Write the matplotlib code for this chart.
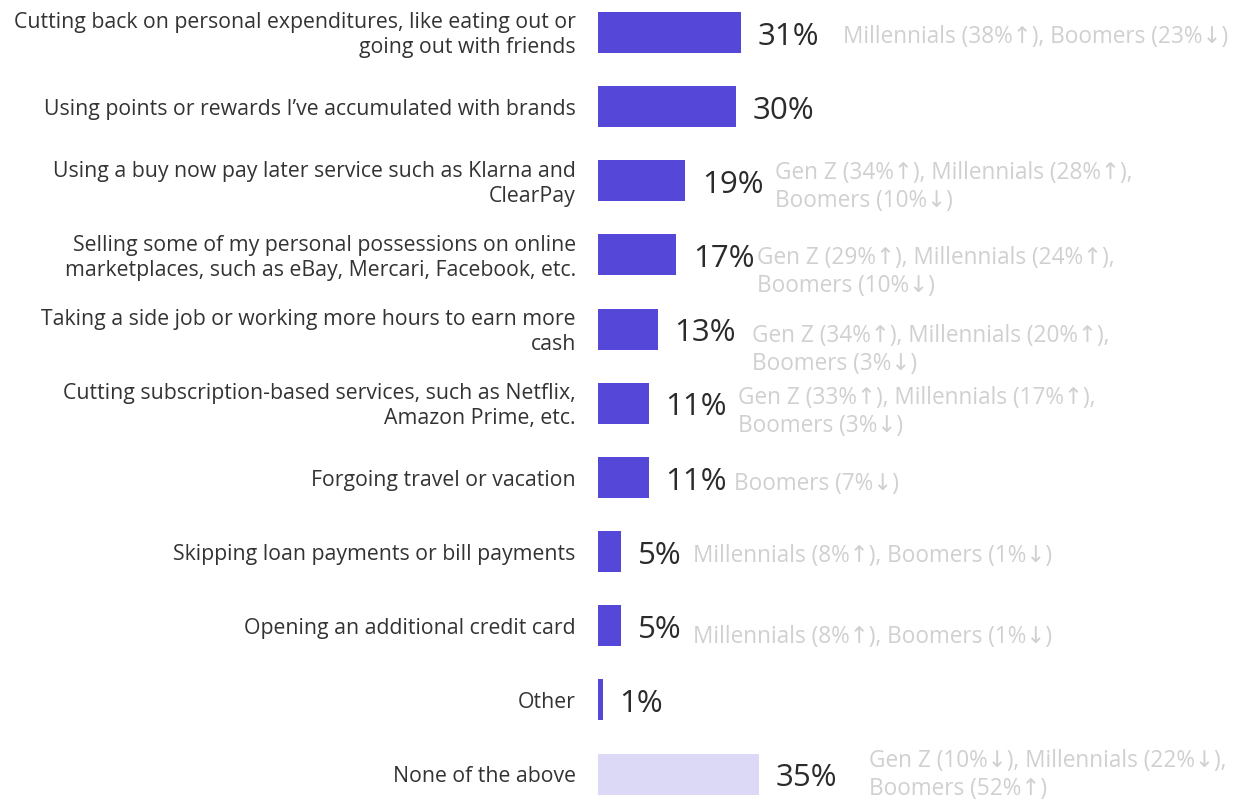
import matplotlib
matplotlib.use('Agg')
import matplotlib.pyplot as plt

plt.rcParams['font.family'] = ['Open Sans', 'Noto Sans', 'DejaVu Sans']

# survey answers, top to bottom
answers = [
    "Cutting back on personal expenditures, like eating out or\ngoing out with friends",
    "Using points or rewards I\u2019ve accumulated with brands",
    "Using a buy now pay later service such as Klarna and\nClearPay",
    "Selling some of my personal possessions on online\nmarketplaces, such as eBay, Mercari, Facebook, etc.",
    "Taking a side job or working more hours to earn more\ncash",
    "Cutting subscription-based services, such as Netflix,\nAmazon Prime, etc.",
    "Forgoing travel or vacation",
    "Skipping loan payments or bill payments",
    "Opening an additional credit card",
    "Other",
    "None of the above",
]
shares = [31, 30, 19, 17, 13, 11, 11, 5, 5, 1, 35]
generation_notes = [
    "Millennials (38%\u2191), Boomers (23%\u2193)",
    "",
    "Gen Z (34%\u2191), Millennials (28%\u2191),\nBoomers (10%\u2193)",
    "Gen Z (29%\u2191), Millennials (24%\u2191),\nBoomers (10%\u2193)",
    "Gen Z (34%\u2191), Millennials (20%\u2191),\nBoomers (3%\u2193)",
    "Gen Z (33%\u2191), Millennials (17%\u2191),\nBoomers (3%\u2193)",
    "Boomers (7%\u2193)",
    "Millennials (8%\u2191), Boomers (1%\u2193)",
    "Millennials (8%\u2191), Boomers (1%\u2193)",
    "",
    "Gen Z (10%\u2193), Millennials (22%\u2193),\nBoomers (52%\u2191)",
]

# where each generation note sits (x in axis units, y shift in points)
note_x = [53.3, 0, 38.5, 34.6, 33.5, 30.4, 29.6, 20.7, 20.7, 0, 58.9]
note_dy = [-3, 0, -4.5, -12, -15, -6, -5, -3, -8, 0, -0.5]

purple = '#5548d9'
pale = '#dcd9f6'
colors = [purple] * (len(shares) - 1) + [pale]

fig = plt.figure(figsize=(12.35, 8), dpi=100)
ax = fig.add_axes([598 / 1235, 0, 1 - 598 / 1235, 1])

rows = list(range(len(shares)))
ax.barh(rows, shares, height=0.553, color=colors)

ax.set_xlim(0, 138.5)
ax.set_ylim(10.35, -0.438)
ax.axis('off')

for i, (label, v, note) in enumerate(zip(answers, shares, generation_notes)):
    ax.annotate(label, xy=(0, i), xytext=(-16, -2), textcoords='offset points',
                ha='right', va='center', fontsize=15.3, color='#333333',
                linespacing=1.25, annotation_clip=False)
    ax.annotate(f"{v}%", xy=(v, i), xytext=(12, -3), textcoords='offset points',
                ha='left', va='center', fontsize=22.5, color='#2b2b2b')
    if note:
        ax.annotate(note, xy=(note_x[i], i), xytext=(0, note_dy[i]),
                    textcoords='offset points', ha='left', va='center',
                    fontsize=16.3, color='#d0d0d0', linespacing=1.22,
                    annotation_clip=False)

fig.savefig('out.png', dpi=100, facecolor='white')
